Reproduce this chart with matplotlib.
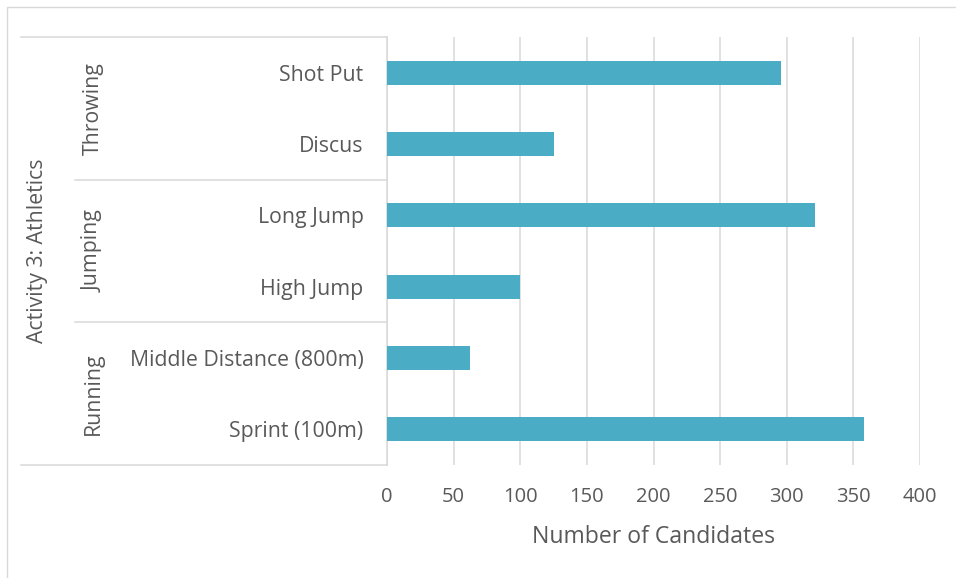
import numpy as np
import matplotlib.pyplot as plt
import matplotlib.transforms as mtransforms
from matplotlib.lines import Line2D
from matplotlib.patches import Rectangle

plt.rcParams['font.family'] = ['Open Sans', 'DejaVu Sans']

events = ["Sprint (100m)", "Middle Distance (800m)", "High Jump", "Long Jump", "Discus", "Shot Put"]
candidates = [358, 62, 100, 321, 125, 296]
groups = ["Running", "Jumping", "Throwing"]
group_size = [2, 2, 2]
outer_label = "Activity 3: Athletics"
xticks = [0, 50, 100, 150, 200, 250, 300, 350, 400]

text_col = "#595959"
line_col = "#D9D9D9"
bar_col = "#4BACC6"

W, H = 956, 578
fig = plt.figure(figsize=(W / 100, H / 100), dpi=100)
fig.patch.set_facecolor("white")

# outer chart frame
fig.add_artist(Rectangle((7 / W, -0.01), 1.1, (578 - 7) / H + 0.01, transform=fig.transFigure,
                         fill=False, edgecolor=line_col, lw=1))

ax = fig.add_axes([387 / W, (H - 465) / H, (920 - 387) / W, (465 - 37) / H])
y = np.arange(len(events))
ax.barh(y, candidates, height=0.335, color=bar_col, zorder=3)
ax.set_xlim(0, 400)
ax.set_ylim(-0.5, len(events) - 0.5)

ax.set_xticks(xticks)
ax.set_xticklabels([str(v) for v in xticks])
ax.set_yticks(y)
ax.set_yticklabels(events)
ax.tick_params(axis="both", length=0, labelcolor=text_col)
ax.tick_params(axis="y", pad=17, labelsize=15.3)
ax.tick_params(axis="x", pad=16, labelsize=14.5)
ax.xaxis.grid(True, color=line_col, lw=1.1, zorder=0)
for s in ["top", "right", "bottom"]:
    ax.spines[s].set_visible(False)
ax.spines["left"].set_color(line_col)
ax.spines["left"].set_linewidth(1.1)
ax.set_xlabel("Number of Candidates", fontsize=16.6, color=text_col, labelpad=13)

# category table on the left
tr = mtransforms.blended_transform_factory(fig.transFigure, ax.transData)
top = len(events) - 0.5
bottom = -0.5
fig.add_artist(Line2D([21 / W, 387 / W], [top, top], transform=tr, color=line_col, lw=1.1))
fig.add_artist(Line2D([21 / W, 387 / W], [bottom, bottom], transform=tr, color=line_col, lw=1.1))
start = -0.5
for i, (g, n) in enumerate(zip(groups, group_size)):
    end = start + n
    if i < len(groups) - 1:
        fig.add_artist(Line2D([75 / W, 387 / W], [end, end], transform=tr, color=line_col, lw=1.1))
    fig.text(93 / W, (start + end) / 2, g, transform=tr, rotation=90, ha="center", va="center",
             fontsize=15.3, color=text_col)
    start = end
fig.text(38 / W, (top + bottom) / 2, outer_label, transform=tr, rotation=90, ha="center",
         va="center", fontsize=15.3, color=text_col)

fig.savefig("out.png", dpi=100, facecolor="white")
